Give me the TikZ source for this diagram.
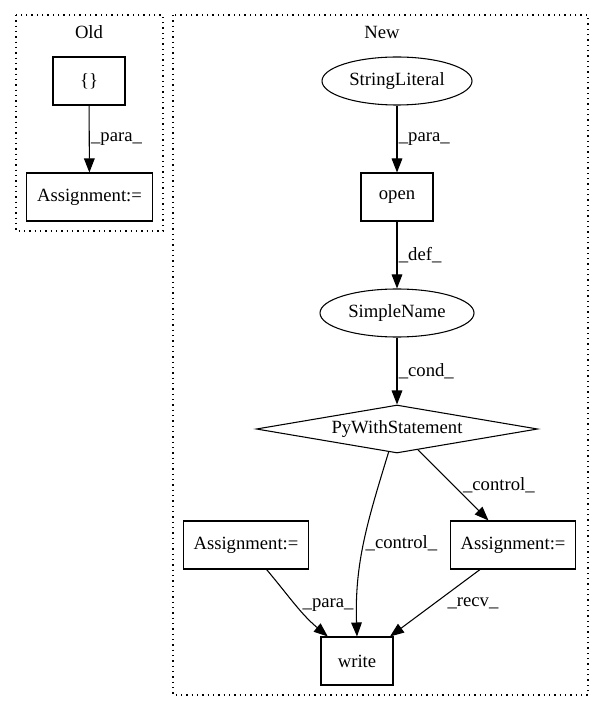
\documentclass[tikz,border=0pt]{standalone}
\usepackage{fontspec}
\setmainfont{Liberation Serif}
\usetikzlibrary{shapes.geometric,arrows.meta}

\begin{document}
\begin{tikzpicture}[x=0.75pt,y=-0.75pt,
    font=\fontsize{14}{16}\selectfont,
    box/.style={draw,line width=0.8pt,minimum height=36pt,inner sep=0pt},
    oval/.style={draw,ellipse,line width=0.8pt,minimum height=36pt,inner sep=0pt},
    edge/.style={-{Triangle[length=10.5pt,width=8pt]},line width=0.8pt},
    lbl/.style={anchor=west,inner sep=1pt},
    cluster/.style={line width=0.8pt,dash pattern=on 1pt off 3pt}]
    \useasboundingbox (0,0) rectangle (603,712);
    % clusters
    \draw[cluster] (16,15) rectangle (163,231);
    \draw[cluster] (173,15) rectangle (588,695);
    \node (old) at (89,32) {Old};
    \node (new) at (382,32) {New};
    % nodes (old)
    \node[box,minimum width=54pt] (brace) at (89,81) {\{\}};
    \node[box,minimum width=94pt] (asgold) at (89.5,197) {Assignment:=};
    % nodes (new)
    \node[oval,minimum width=112.5pt] (strlit) at (397,81) {StringLiteral};
    \node[box,minimum width=54pt] (open) at (397,197) {open};
    \node[oval,minimum width=115.5pt] (sname) at (397,313) {SimpleName};
    \node[draw,diamond,aspect=6,line width=0.8pt,inner sep=0pt,
          minimum width=211pt,minimum height=36pt] (pws) at (397,429) {PyWithStatement};
    \node[box,minimum width=94pt] (asgl) at (246,545) {Assignment:=};
    \node[box,minimum width=94pt] (asgr) at (513,545) {Assignment:=};
    \node[box,minimum width=54pt] (write) at (357,661) {write};
    % edges
    \draw[edge] (brace) -- node[lbl] {\_para\_} (asgold);
    \draw[edge] (strlit) -- node[lbl] {\_para\_} (open);
    \draw[edge] (open) -- node[lbl] {\_def\_} (sname);
    \draw[edge] (sname) -- node[lbl] {\_cond\_} (pws);
    \draw[edge] (pws) -- node[lbl,xshift=6] {\_control\_} (asgr);
    \draw[edge] (pws.250) to[out=-107,in=92] node[lbl,pos=.5] {\_control\_} (write.north);
    \draw[edge] (asgl) to[out=-50,in=140] node[lbl,pos=.5,xshift=4] {\_para\_} (write);
    \draw[edge] (asgr) -- node[lbl,xshift=8] {\_recv\_} (write);
\end{tikzpicture}
\end{document}
